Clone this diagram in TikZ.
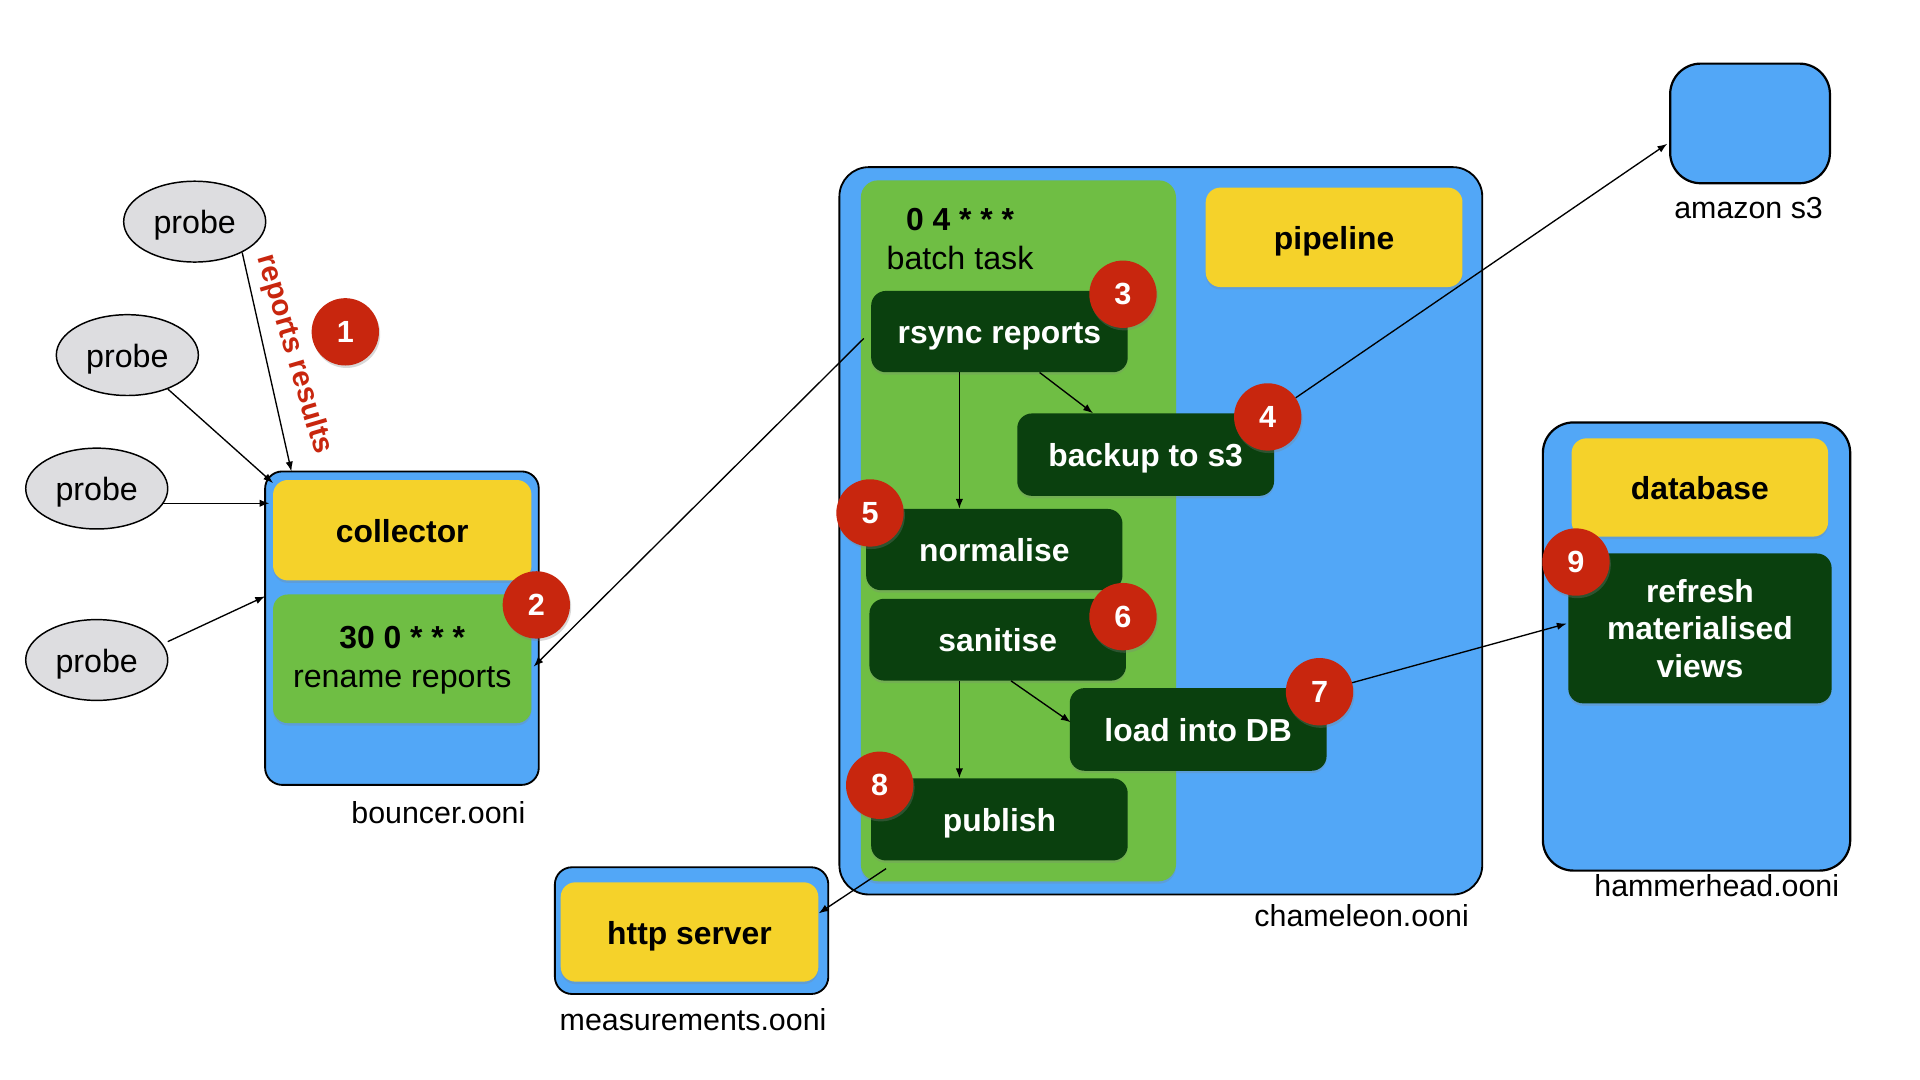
\documentclass[tikz,border=0pt]{standalone}
\usepackage{fontspec}
\setmainfont{Liberation Sans}
\usetikzlibrary{arrows.meta,shapes.geometric,shadows}
\definecolor{hostblue}{HTML}{52A7F7}
\definecolor{ylw}{HTML}{F5D22A}
\definecolor{lgreen}{HTML}{6FBE44}
\definecolor{dgreen}{HTML}{0A400E}
\definecolor{badgered}{HTML}{C8260E}
\definecolor{probegray}{HTML}{DDDDE0}
\newcommand\myfs{\fontsize{24}{30}\selectfont}
\newcommand\bigfs{\fontsize{26.3}{32}\selectfont}
\newcommand\boldfs{\fontsize{26}{32}\selectfont}
\newcommand\hostfs{\fontsize{24.8}{30}\selectfont}
\tikzset{
  host/.style={draw=black, line width=1.5pt, fill=hostblue, rounded corners=14pt, inner sep=0pt},
  innerbox/.style={rounded corners=12pt, inner sep=0pt, drop shadow={shadow xshift=0pt,shadow yshift=-2pt,opacity=0.25}},
  onetext/.style={text height=20pt, text depth=0pt},
  yel/.style={innerbox, onetext, fill=ylw, font=\bfseries\boldfs},
  task/.style={innerbox, onetext, fill=dgreen, text=white, font=\bfseries\boldfs, align=center},
  badge/.style={circle, fill=badgered, text=white, font=\bfseries\fontsize{25}{30}\selectfont, minimum size=55pt, inner sep=0pt, drop shadow={shadow xshift=1pt,shadow yshift=-2pt,opacity=0.3}},
  probe/.style={ellipse, draw=black, line width=1.2pt, fill=probegray, minimum width=116pt, minimum height=66pt, inner sep=0pt, onetext, font=\bigfs},
  hostlabel/.style={font=\hostfs},
  arr/.style={-{Latex[length=8pt,width=6pt]}, line width=1.1pt}
}
\begin{document}
\begin{tikzpicture}[x=1pt,y=-1pt]
\useasboundingbox (0,0) rectangle (1568,882);
\fill[white] (0,0) rectangle (1568,882);

% hosts
\node[host, minimum width=223.5pt, minimum height=256pt] (bouncer) at (328.25,513) {};
\node[host, minimum width=525pt, minimum height=594pt, rounded corners=24pt] (chameleon) at (948,433.5) {};
\node[host, minimum width=130.5pt, minimum height=97.7pt, rounded corners=25pt, line width=1.8pt] (amazon) at (1429.2,100.8) {};
\node[host, minimum width=251pt, minimum height=366pt, rounded corners=25pt, line width=1.8pt] (hammer) at (1385.5,528) {};
\node[host, minimum width=223.3pt, minimum height=103.5pt] (meas) at (564.8,760) {};

% host labels
\node[hostlabel] (lbouncer) at (358,664) {bouncer.ooni};
\node[hostlabel] (lcham) at (1112,748) {chameleon.ooni};
\node[hostlabel] (lhammer) at (1402,723) {hammerhead.ooni};
\node[hostlabel] (lamazon) at (1428,170) {amazon s3};
\node[hostlabel] (lmeas) at (566,833) {measurements.ooni};

% bouncer content
\node[yel, minimum width=211pt, minimum height=82pt] (collector) at (328.5,433) {collector};
\node[innerbox, fill=lgreen, minimum width=211pt, minimum height=105pt] (rename) at (328.5,538) {};
\node[font=\bigfs, align=center] (renametxt) at (328.5,539) {{\bfseries\boldfs 30 0 * * *}\\rename reports};

% chameleon content
\node[innerbox, fill=lgreen, minimum width=257.4pt, minimum height=572.4pt, rounded corners=14pt] (batch) at (831.7,433.5) {};
\node[font=\bigfs, align=center] (batchtxt) at (784,195) {{\bfseries\boldfs 0 4 * * *}\\batch task};
\node[yel, minimum width=209.7pt, minimum height=81.2pt] (pipeline) at (1089.5,193.8) {pipeline};
\node[task, minimum width=209.5pt, minimum height=66.4pt] (rsync) at (816.2,270.8) {rsync reports};
\node[task, minimum width=209.7pt, minimum height=67.3pt] (backup) at (935.6,371.3) {backup to s3};
\node[task, minimum width=209.3pt, minimum height=66.3pt] (normalise) at (812,448.8) {normalise};
\node[task, minimum width=209.5pt, minimum height=66.8pt] (sanitise) at (814.8,522.4) {sanitise};
\node[task, minimum width=209.7pt, minimum height=67.5pt] (load) at (978.5,595.7) {load into DB};
\node[task, minimum width=209.5pt, minimum height=67pt] (publish) at (816.2,669.2) {publish};

% hammerhead content
\node[yel, minimum width=209.5pt, minimum height=80.2pt] (database) at (1388.2,398.1) {database};
\node[innerbox, fill=dgreen, text=white, align=center, minimum width=215pt, minimum height=122.4pt, font=\bfseries\fontsize{26}{30.5}\selectfont] (refresh) at (1388.3,513.2) {refresh\\materialised\\views};

% measurements content
\node[yel, minimum width=210.4pt, minimum height=81.1pt] (http) at (563.1,761.1) {http server};

% probes
\node[probe] (p1) at (159,181) {probe};
\node[probe] (p2) at (104,290) {probe};
\node[probe] (p3) at (79,399) {probe};
\node[probe] (p4) at (79,539) {probe};

% connector end points
\coordinate (e1) at (238,385);
\coordinate (e2) at (223,394.5);
\coordinate (e3) at (220,411);
\coordinate (e4) at (216.5,487);
\coordinate (s3) at (133,411);
\coordinate (s4) at (137,524);
\coordinate (rsyncL) at (705.4,276.4);
\coordinate (renameE) at (435.8,544.4);
\coordinate (vx) at (783.5,0);
\coordinate (dx1) at (849,0);
\coordinate (dx2) at (892.6,0);
\coordinate (dx3) at (825.6,0);
\coordinate (loadW) at (874.4,589.9);
\coordinate (s3in) at (1361.6,117.4);
\coordinate (refreshW) at (1279.4,509.3);
\coordinate (pubS) at (723.6,709.4);
\coordinate (httpE) at (668.6,745.9);

% connectors
\draw[arr] (p1.-33) -- (e1);
\draw[arr] (p2.-40) -- (e2);
\draw[arr] (s3) -- (e3);
\draw[arr] (s4) -- (e4);
\node[font=\bfseries\myfs, text=badgered, rotate=-73.6] (rr) at (240,289.5) {reports results};
\draw[arr] (rsyncL) -- (renameE);
\draw[arr] (rsync.south -| vx) -- (normalise.north -| vx);
\draw[arr] (rsync.south -| dx1) -- (backup.north -| dx2);
\draw[arr] (sanitise.south -| vx) -- (publish.north -| vx);
\draw[arr] (sanitise.south -| dx3) -- (loadW);
\draw[arr] (pubS) -- (httpE);

% badges
\node[badge] (b1) at (282,271) {1};
\node[badge] (b2) at (438,494) {2};
\node[badge] (b3) at (917.1,240.3) {3};
\node[badge] (b4) at (1035.3,340.5) {4};
\node[badge] (b5) at (710.5,418.9) {5};
\node[badge] (b6) at (917.1,503.6) {6};
\node[badge] (b7) at (1077.6,564.9) {7};
\node[badge] (b8) at (718.4,641.3) {8};
\node[badge] (b9) at (1287,459) {9};

\draw[arr] (b4) -- (s3in);
\draw[arr] (b7) -- (refreshW);
\end{tikzpicture}
\end{document}
